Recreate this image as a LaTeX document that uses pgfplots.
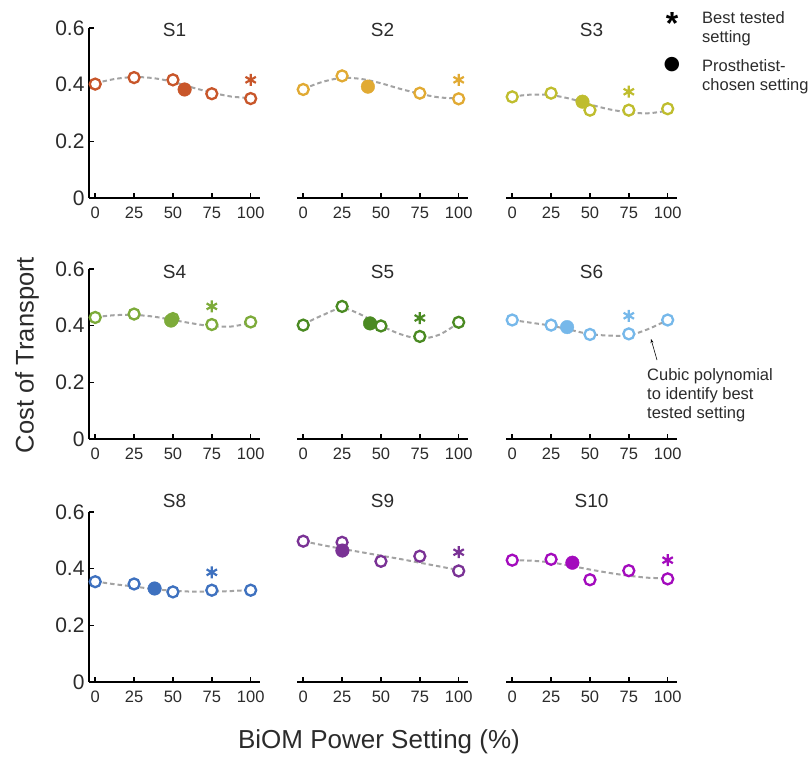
\documentclass[border=0pt]{standalone}
\usepackage{pgfplots}
\pgfplotsset{compat=1.18}
\usetikzlibrary{arrows.meta}
\usepackage{fontspec}
\setmainfont{Liberation Sans}
\newfontfamily\djv{DejaVu Sans}

\definecolor{cS1}{HTML}{C8562A}
\definecolor{cS2}{HTML}{E1AA33}
\definecolor{cS3}{HTML}{BFBD2E}
\definecolor{cS4}{HTML}{7DAB3A}
\definecolor{cS5}{HTML}{4A8A22}
\definecolor{cS6}{HTML}{76B8EA}
\definecolor{cS8}{HTML}{3E71BF}
\definecolor{cS9}{HTML}{7A3295}
\definecolor{cS10}{HTML}{A30BBD}
\definecolor{fitgray}{HTML}{A3A3A3}
\definecolor{txt}{HTML}{2B2B2B}

\pgfplotsset{
  panel/.style={
    scale only axis, width=171pt, height=170pt,
    xmin=-4, xmax=106, ymin=0, ymax=0.6,
    xtick={0,25,50,75,100}, ytick={0,0.2,0.4,0.6},
    axis x line*=bottom, axis y line*=left,
    axis line style={-, line width=2pt, black},
    tick align=inside, major tick length=5pt,
    tick style={line width=1.6pt, black},
    /pgf/number format/assume math mode=true,
    xticklabel style={font=\fontsize{16.5}{16.5}\selectfont, text=txt, yshift=-5pt, text height=12pt, text depth=0pt},
    yticklabel style={font=\fontsize{21}{21}\selectfont, text=txt, xshift=-1pt},
    every axis title shift=0pt,
    title style={font=\fontsize{19}{19}\selectfont, text=txt, at={(0.5,1)}, anchor=center},
    clip=false,
    anchor=south west,
  },
  noy/.style={axis y line=none},
  row1/.style={title style={yshift=-2pt}},
  row2/.style={title style={yshift=-3pt}},
  row3/.style={title style={yshift=11pt}},
  fit/.style={fitgray, dash pattern=on 4.5pt off 3pt, line width=2pt, smooth, no markers},
  open/.style={only marks, mark=*, mark size=5.5pt, mark options={draw=#1, fill=white, line width=2.3pt}},
  chosen/.style={only marks, mark=*, mark size=6.8pt, mark options={draw=#1, fill=#1}},
  best/.style={only marks, mark=asterisk, mark size=6pt, mark options={draw=#1, line width=2.2pt}},
}

\begin{document}
\begin{tikzpicture}
\useasboundingbox (0pt,0pt) rectangle (811pt,756pt);

% ---- row 1 ----
\begin{axis}[panel, row1, at={(89pt,558pt)}, title={S1}]
  \addplot[fit] coordinates {(0,0.405) (12.5,0.420) (25,0.427) (37.5,0.423) (50,0.410) (62.5,0.390) (75,0.372) (87.5,0.358) (100,0.353)};
  \addplot[open=cS1] coordinates {(0,0.402) (25,0.425) (50,0.417) (75,0.368) (100,0.351)};
  \addplot[chosen=cS1] coordinates {(57.5,0.383)};
  \addplot[best=cS1] coordinates {(100,0.417)};
\end{axis}
\begin{axis}[panel, noy, row1, at={(297pt,558pt)}, title={S2}]
  \addplot[fit] coordinates {(0,0.385) (12.5,0.410) (25,0.424) (37.5,0.420) (50,0.405) (62.5,0.385) (75,0.368) (87.5,0.355) (100,0.352)};
  \addplot[open=cS2] coordinates {(0,0.383) (25,0.431) (75,0.370) (100,0.350)};
  \addplot[chosen=cS2] coordinates {(41.6,0.393)};
  \addplot[best=cS2] coordinates {(100,0.417)};
\end{axis}
\begin{axis}[panel, noy, row1, at={(506pt,558pt)}, title={S3}]
  \addplot[fit] coordinates {(0,0.358) (12.5,0.365) (25,0.363) (37.5,0.350) (50,0.330) (62.5,0.313) (75,0.302) (87.5,0.299) (100,0.308)};
  \addplot[open=cS3] coordinates {(0,0.357) (25,0.370) (50,0.310) (75,0.310) (100,0.315)};
  \addplot[chosen=cS3] coordinates {(45.2,0.340)};
  \addplot[best=cS3] coordinates {(75,0.375)};
\end{axis}

% ---- row 2 ----
\begin{axis}[panel, row2, at={(89pt,317pt)}, title={S4}]
  \addplot[fit] coordinates {(0,0.430) (12.5,0.437) (25,0.438) (37.5,0.432) (50,0.420) (62.5,0.408) (75,0.398) (87.5,0.397) (100,0.410)};
  \addplot[open=cS4] coordinates {(0,0.429) (25,0.441) (50,0.425) (75,0.404) (100,0.413)};
  \addplot[chosen=cS4] coordinates {(48.8,0.418)};
  \addplot[best=cS4] coordinates {(75,0.468)};
\end{axis}
\begin{axis}[panel, noy, row2, at={(297pt,317pt)}, title={S5}]
  \addplot[fit] coordinates {(0,0.405) (12.5,0.437) (25,0.462) (37.5,0.438) (50,0.400) (62.5,0.370) (75,0.354) (87.5,0.368) (100,0.410)};
  \addplot[open=cS5] coordinates {(0,0.402) (25,0.468) (50,0.399) (75,0.362) (100,0.412)};
  \addplot[chosen=cS5] coordinates {(43,0.408)};
  \addplot[best=cS5] coordinates {(75,0.427)};
\end{axis}
\begin{axis}[panel, noy, row2, at={(506pt,317pt)}, title={S6}]
  \addplot[fit] coordinates {(0,0.420) (12.5,0.410) (25,0.400) (37.5,0.385) (50,0.370) (62.5,0.365) (75,0.366) (87.5,0.388) (100,0.420)};
  \addplot[open=cS6] coordinates {(0,0.420) (25,0.402) (50,0.369) (75,0.371) (100,0.420)};
  \addplot[chosen=cS6] coordinates {(35.3,0.395)};
  \addplot[best=cS6] coordinates {(75,0.435)};
\end{axis}

% ---- row 3 ----
\begin{axis}[panel, row3, at={(89pt,74pt)}, title={S8}]
  \addplot[fit] coordinates {(0,0.355) (12.5,0.345) (25,0.337) (37.5,0.328) (50,0.322) (62.5,0.319) (75,0.319) (87.5,0.321) (100,0.325)};
  \addplot[open=cS8] coordinates {(0,0.354) (25,0.346) (50,0.318) (75,0.324) (100,0.324)};
  \addplot[chosen=cS8] coordinates {(38.2,0.330)};
  \addplot[best=cS8] coordinates {(75,0.387)};
\end{axis}
\begin{axis}[panel, noy, row3, at={(297pt,74pt)}, title={S9}]
  \addplot[fit] coordinates {(0,0.497) (12.5,0.483) (25,0.470) (37.5,0.458) (50,0.446) (62.5,0.434) (75,0.421) (87.5,0.408) (100,0.395)};
  \addplot[open=cS9] coordinates {(0,0.497) (25,0.493) (50,0.426) (75,0.444) (100,0.392)};
  \addplot[chosen=cS9] coordinates {(25.2,0.464)};
  \addplot[best=cS9] coordinates {(100,0.458)};
\end{axis}
\begin{axis}[panel, noy, row3, at={(506pt,74pt)}, title={S10}]
  \addplot[fit] coordinates {(0,0.430) (12.5,0.428) (25,0.422) (37.5,0.410) (50,0.397) (62.5,0.385) (75,0.375) (87.5,0.368) (100,0.366)};
  \addplot[open=cS10] coordinates {(0,0.430) (25,0.433) (50,0.361) (75,0.393) (100,0.364)};
  \addplot[chosen=cS10] coordinates {(38.7,0.421)};
  \addplot[best=cS10] coordinates {(100,0.430)};
\end{axis}

% shared labels
\node[rotate=90, font=\fontsize{25.5}{26}\selectfont, text=txt] at (27pt,401pt) {Cost of Transport};
\node[font=\fontsize{26}{26}\selectfont, text=txt] at (379pt,14pt) {BiOM Power Setting (\%)};

% key
\node[anchor=base, inner sep=0pt, font=\fontsize{32}{32}\selectfont\bfseries] at (672pt,721pt) {*};
\node[anchor=center, inner sep=0pt, font=\djv\fontsize{19}{19}\selectfont] at (672pt,691pt) {●};
\node[anchor=north west, align=left, inner sep=0pt, font=\fontsize{16.5}{19}\selectfont, text=txt] at (702pt,745pt) {Best tested\\setting};
\node[anchor=north west, align=left, inner sep=0pt, font=\fontsize{16.5}{19}\selectfont, text=txt] at (702pt,697pt) {Prosthetist-\\chosen setting};

% note on the fitted curve
\draw[-{Stealth[length=4pt,width=3pt]}, line width=0.6pt] (657pt,396pt) -- (651pt,417pt);
\node[anchor=north west, align=left, inner sep=0pt, font=\fontsize{16.5}{19}\selectfont, text=txt] at (647pt,388pt) {Cubic polynomial\\to identify best\\tested setting};
\end{tikzpicture}
\end{document}
